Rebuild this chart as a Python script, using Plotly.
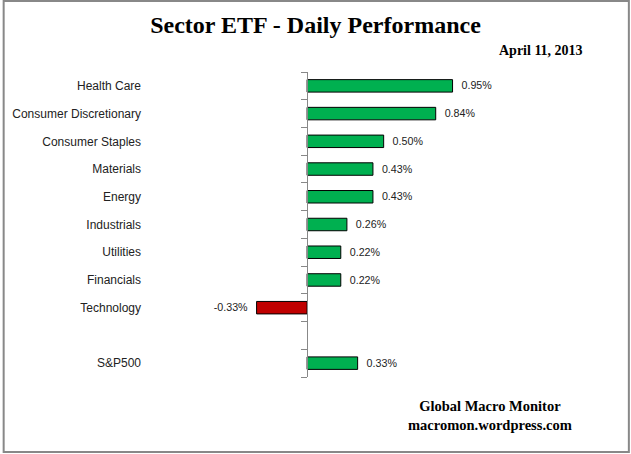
import plotly.graph_objects as go

# sector daily returns, %
sectors = ["Health Care", "Consumer Discretionary", "Consumer Staples", "Materials",
           "Energy", "Industrials", "Utilities", "Financials", "Technology", "", "S&P500"]
returns = [0.95, 0.84, 0.50, 0.43, 0.43, 0.26, 0.22, 0.22, -0.33, None, 0.33]
labels = ["0.95%", "0.84%", "0.50%", "0.43%", "0.43%", "0.26%", "0.22%", "0.22%",
          "-0.33%", "", "0.33%"]

GREEN = "#00B050"
RED = "#C00000"
SERIF = "Liberation Serif"
SANS = "Liberation Sans"

pos = list(range(len(sectors)))
colors = [RED if (v is not None and v < 0) else GREEN for v in returns]
# pad the value labels away from the bar ends a little
shown = ["  " + t if (v is None or v >= 0) else t + "  " for t, v in zip(labels, returns)]

X_RANGE = [-1.0, 1.9]
zero_pos = (0 - X_RANGE[0]) / (X_RANGE[1] - X_RANGE[0])

fig = go.Figure()
fig.add_trace(go.Bar(
    y=pos, x=returns, orientation="h", width=0.45,
    marker=dict(color=colors, line=dict(color="black", width=1)),
    text=shown, textposition="outside", cliponaxis=False,
    textfont=dict(family=SANS, size=12, color="#222"),
    hoverinfo="skip",
))
# invisible trace so the second y-axis (drawn at zero) gets a range
fig.add_trace(go.Scatter(y=[0], x=[0], yaxis="y2", mode="markers",
                         marker=dict(opacity=0), hoverinfo="skip", showlegend=False))

fig.update_layout(
    width=631, height=454,
    margin=dict(l=152, r=33, t=72, b=77),
    paper_bgcolor="white", plot_bgcolor="white",
    showlegend=False,
    xaxis=dict(range=X_RANGE, visible=False, fixedrange=True),
    yaxis=dict(range=[10.5, -0.5], tickvals=pos, ticktext=sectors,
               showline=False, showgrid=False, zeroline=False, ticks="",
               tickfont=dict(family=SANS, size=12, color="#222"),
               ticklabelstandoff=12),
    yaxis2=dict(overlaying="y", anchor="free", position=zero_pos,
                range=[10.5, -0.5], tickvals=[p - 0.5 for p in pos] + [10.5],
                showticklabels=False, ticks="outside", ticklen=6,
                tickcolor="#888", showline=True, linecolor="#888", linewidth=1,
                showgrid=False, zeroline=False),
    title=dict(text="<b>Sector ETF - Daily Performance</b>", x=0.5, xanchor="center",
               y=0.945, yanchor="middle",
               font=dict(family=SERIF, size=24, color="black")),
    annotations=[
        dict(text="<b>April 11, 2013</b>", xref="paper", yref="paper",
             x=0.971, y=1.072, xanchor="right", yanchor="middle", showarrow=False,
             font=dict(family=SERIF, size=14, color="black")),
        dict(text="<b>Global Macro Monitor</b><br><b>macromon.wordpress.com</b>",
             xref="paper", yref="paper", x=0.756, y=-0.125, xanchor="center",
             yanchor="middle", showarrow=False,
             font=dict(family=SERIF, size=14.5, color="black")),
    ],
    shapes=[dict(type="rect", xref="paper", yref="paper",
                 x0=-0.3386, x1=1.0695, y0=-0.246, y1=1.233,
                 line=dict(color="#888", width=2))],
)

fig.write_html("out.html", config={"displayModeBar": False},
               post_script="document.body.style.margin='0';")
